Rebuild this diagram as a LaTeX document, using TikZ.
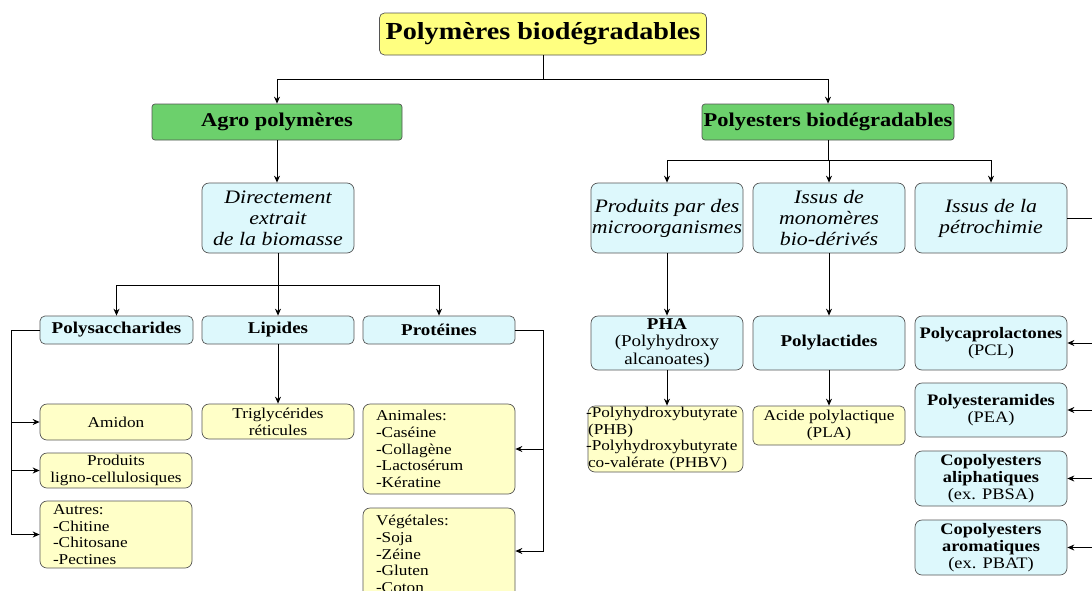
\documentclass[tikz,border=0pt]{standalone}
\usepackage{fontspec}
\setmainfont{Liberation Serif}[FakeStretch=1.15]
\usetikzlibrary{arrows.meta}
\definecolor{titley}{HTML}{FFFF80}
\definecolor{greenb}{HTML}{6CD06C}
\definecolor{blueb}{HTML}{DDF8FC}
\definecolor{yellb}{HTML}{FFFFC8}
\definecolor{edgec}{HTML}{555555}
\tikzset{
  box/.style={draw=edgec, line width=0.7pt, rounded corners=5pt, inner sep=1pt, align=center},
  titlebox/.style={box, fill=titley, font=\fontsize{24.5}{28}\selectfont\bfseries},
  greenbox/.style={box, fill=greenb, rounded corners=3pt, font=\fontsize{19.5}{22}\selectfont\bfseries},
  bluebold/.style={box, fill=blueb, font=\fontsize{16.5}{19}\selectfont\bfseries},
  blueit/.style={box, fill=blueb, rounded corners=7pt, font=\fontsize{19}{21}\selectfont\itshape},
  yellbox/.style={box, fill=yellb, rounded corners=7pt, font=\fontsize{15}{16.7}\selectfont},
  bluemix/.style={box, fill=blueb, rounded corners=7pt, font=\fontsize{16}{17.2}\selectfont},
  link/.style={line width=1pt, black},
  arr/.style={link, -{Stealth[length=7pt,width=6pt]}}
}
\begin{document}
\begin{tikzpicture}[x=1pt,y=-1pt]
\useasboundingbox (0,0) rectangle (1092,590);
\clip (0,0) rectangle (1092,590);
% top
\node[titlebox, minimum width=327pt, minimum height=42pt] (title) at (543,34) {Polymères biodégradables};
\node[greenbox, minimum width=250pt, minimum height=36pt] (agro) at (277,122) {Agro polymères};
\node[greenbox, minimum width=252pt, minimum height=36pt] (poly) at (828,122) {Polyesters biodégradables};
% left branch
\node[blueit, minimum width=152pt, minimum height=70pt] (direct) at (278,218) {Directement\\extrait\\de la biomasse};
\node[bluebold, minimum width=153pt, minimum height=28pt] (psac) at (116.5,330) {Polysaccharides};
\node[bluebold, minimum width=152pt, minimum height=28pt] (lip) at (278,330) {Lipides};
\node[bluebold, minimum width=152pt, minimum height=28pt] (prot) at (439,330) {Protéines};
\node[yellbox, minimum width=152pt, minimum height=36pt] (amidon) at (116,422) {Amidon};
\node[yellbox, minimum width=152pt, minimum height=35pt] (ligno) at (116,470.5) {Produits\\ligno-cellulosiques};
\node[yellbox, minimum width=152pt, minimum height=67pt, align=left, text width=126pt] (autres) at (116,534.5) {Autres:\\-Chitine\\-Chitosane\\-Pectines};
\node[yellbox, minimum width=152pt, minimum height=35pt] (trig) at (278,421.5) {Triglycérides\\réticules};
\node[yellbox, minimum width=152pt, minimum height=90pt, align=left, text width=126pt] (anim) at (439,449) {Animales:\\-Caséine\\-Collagène\\-Lactosérum\\-Kératine};
\node[yellbox, minimum width=152pt, minimum height=92pt, align=left, text width=126pt] (veg) at (439,554) {Végétales:\\-Soja\\-Zéine\\-Gluten\\-Coton};
% right branch
\node[blueit, minimum width=152pt, minimum height=70pt] (prod) at (667,218) {Produits par des\\microorganismes};
\node[blueit, minimum width=152pt, minimum height=70pt] (mono) at (829,218) {Issus de\\monomères\\bio-dérivés};
\node[blueit, minimum width=152pt, minimum height=70pt] (petro) at (991,218) {Issus de la\\pétrochimie};
\node[bluemix, minimum width=152pt, minimum height=54pt, font=\fontsize{16.5}{17.5}\selectfont] (pha) at (667,343) {\textbf{PHA}\\(Polyhydroxy\\alcanoates)};
\node[bluebold, rounded corners=7pt, minimum width=152pt, minimum height=54pt] (plac) at (829,343) {Polylactides};
\node[bluemix, minimum width=152pt, minimum height=54pt] (pcl) at (991,343) {\textbf{Polycaprolactones}\\(PCL)};
\node[bluemix, minimum width=152pt, minimum height=54pt] (pea) at (991,410) {\textbf{Polyesteramides}\\(PEA)};
\node[bluemix, minimum width=152pt, minimum height=55pt] (aliph) at (991,478.5) {\textbf{Copolyesters}\\\textbf{aliphatiques}\\(ex. PBSA)};
\node[bluemix, minimum width=152pt, minimum height=55pt] (arom) at (991,547.5) {\textbf{Copolyesters}\\\textbf{aromatiques}\\(ex. PBAT)};
\node[yellbox, minimum width=155pt, minimum height=66pt, align=left, text width=155pt, inner sep=0pt] (phb) at (665.5,439) {\hspace*{-2pt}-Polyhydroxybutyrate\\(PHB)\\\hspace*{-2pt}-Polyhydroxybutyrate\\co-valérate (PHBV)};
\node[yellbox, rounded corners=5pt, minimum width=152pt, minimum height=39pt] (acide) at (829,425.5) {Acide polylactique\\(PLA)};
% connectors top
\draw[link] (title.south) -- ++(0,24) coordinate (t1);
\draw[arr] (t1) -| (agro.north);
\draw[arr] (t1) -| (poly.north);
% left
\draw[arr] (agro.south) -- (agro.south |- direct.north);
\draw[link] (direct.south) -- ++(0,32) coordinate (d1);
\draw[arr] (d1) -| (psac.north);
\draw[arr] (d1) -| (lip.north);
\draw[arr] (d1) -| (prot.north);
\draw[link] (psac.west) -- ++(-28,0) coordinate (l1);
\draw[arr] (l1) |- (amidon.west);
\draw[arr] (l1) |- (ligno.west);
\draw[arr] (l1) |- (autres.west);
\draw[arr] (lip.south) -- (trig.north);
\draw[link] (prot.east) -- ++(28,0) coordinate (r1);
\draw[arr] (r1) |- (anim.east);
\draw[arr] (r1) |- ([yshift=3pt]veg.east);
% right
\draw[link] (poly.south) -- ++(0,20) coordinate (p1);
\draw[arr] (p1) -| (prod.north);
\draw[arr] (p1) -| (mono.north);
\draw[arr] (p1) -| (petro.north);
\draw[arr] (prod.south) -- (pha.north);
\draw[arr] (pha.south) -- (pha.south |- phb.north);
\draw[arr] (mono.south) -- (plac.north);
\draw[arr] (plac.south) -- (acide.north);
\draw[link] (petro.east) -- ++(26,0) coordinate (q1);
\draw[arr] (q1) |- (pcl.east);
\draw[arr] (q1) |- (pea.east);
\draw[arr] (q1) |- (aliph.east);
\draw[arr] (q1) |- (arom.east);
\end{tikzpicture}
\end{document}
